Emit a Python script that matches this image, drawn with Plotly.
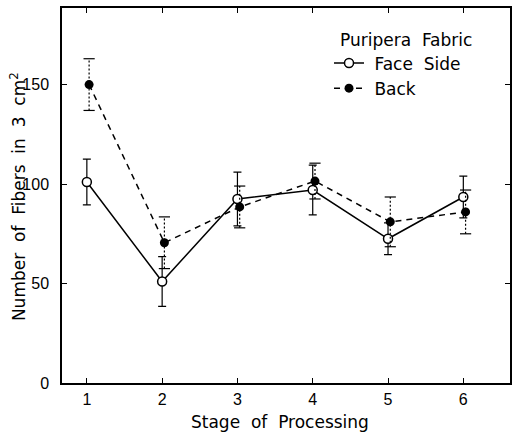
import plotly.graph_objects as go

stages = [1, 2, 3, 4, 5, 6]
tick_labels = ["1", "2", "3", "4", "5", "6"]

face_vals = [101, 51, 92.5, 97, 72.5, 93.5]
face_err = [11.5, 12.5, 13.5, 12.5, 8, 10.5]

back_vals = [150, 70.5, 88.5, 101.5, 81, 86]
back_err = [13, 13, 10.5, 9, 12.5, 11]

y_ticks = [0, 50, 100, 150]

FONT = "Liberation Sans"
TFONT = "DejaVu Sans"
BACK_SHIFT = 0.03
NB = "\u00a0"

back_x = [s + BACK_SHIFT for s in stages]

fig = go.Figure()

# Face side with solid error bars
fig.add_trace(go.Scatter(
    x=stages, y=face_vals, mode="lines+markers", name=NB + "Face" + NB * 2 + "Side",
    line=dict(color="black", width=1.5),
    marker=dict(symbol="circle", size=9, color="white", line=dict(color="black", width=1.5)),
    error_y=dict(type="data", array=face_err, visible=True, color="black", thickness=1.2, width=4),
))

# Back error bars (dashed)
ex, ey = [], []
for x, v, e in zip(back_x, back_vals, back_err):
    ex += [x, x, None]
    ey += [v - e, v + e, None]
fig.add_trace(go.Scatter(
    x=ex, y=ey, mode="lines", showlegend=False, hoverinfo="skip",
    line=dict(color="black", width=1.2, dash="2px,2px"),
))
cx, cy = [], []
for x, v, e in zip(back_x, back_vals, back_err):
    cx += [x, x]
    cy += [v - e, v + e]
fig.add_trace(go.Scatter(
    x=cx, y=cy, mode="markers", showlegend=False, hoverinfo="skip",
    marker=dict(symbol="line-ew-open", size=8, color="black", line=dict(color="black", width=1.2)),
))

fig.add_trace(go.Scatter(
    x=back_x, y=back_vals, mode="lines+markers", name=NB + "Back",
    line=dict(color="black", width=1.5, dash="6px,5px"),
    marker=dict(symbol="circle", size=9, color="black"),
))

axis_common = dict(
    showline=True, linecolor="black", linewidth=1.5, mirror="ticks",
    ticks="inside", ticklen=5, tickwidth=1.2, tickcolor="black",
    showgrid=False, zeroline=False, automargin=False,
)

fig.update_layout(
    width=515, height=434,
    margin=dict(l=62, r=5, t=8, b=51),
    paper_bgcolor="white", plot_bgcolor="white",
    font=dict(family=FONT, color="black"),
    xaxis=dict(
        range=[0.67, 6.62], tickvals=stages, ticktext=tick_labels,
        tickfont=dict(family=FONT, size=16, color="black"),
        ticklabelstandoff=1,
        **axis_common,
    ),
    yaxis=dict(
        range=[0, 188.5], tickvals=y_ticks,
        tickfont=dict(family=FONT, size=16, color="black"),
        ticklabelstandoff=8,
        **axis_common,
    ),
    legend=dict(
        x=0.596, y=0.90, xanchor="left", yanchor="top",
        bgcolor="rgba(0,0,0,0)", borderwidth=0,
        font=dict(family=TFONT, size=17, color="black"),
        itemwidth=30, tracegroupgap=0,
    ),
    annotations=[
        dict(text="Puripera" + NB * 2 + "Fabric", x=0.616, y=0.946, xref="paper", yref="paper",
             xanchor="left", yanchor="top", showarrow=False,
             font=dict(family=TFONT, size=17, color="black")),
        dict(text="Stage" + NB * 2 + "of" + NB * 2 + "Processing", x=0.487, y=-0.104,
             xref="paper", yref="paper", xanchor="center", yanchor="middle", showarrow=False,
             font=dict(family=TFONT, size=17, color="black")),
        dict(text="Number" + NB * 2 + "of" + NB * 2 + "Fibers" + NB * 2 + "in" + NB * 2 + "3" + NB * 2 + "cm<sup>2</sup>",
             x=-0.098, y=0.496, textangle=-90,
             xref="paper", yref="paper", xanchor="center", yanchor="middle", showarrow=False,
             font=dict(family=TFONT, size=17, color="black")),
    ],
)

fig.write_html("out.html", config={"displayModeBar": False},
               post_script="document.body.style.margin='0';")
